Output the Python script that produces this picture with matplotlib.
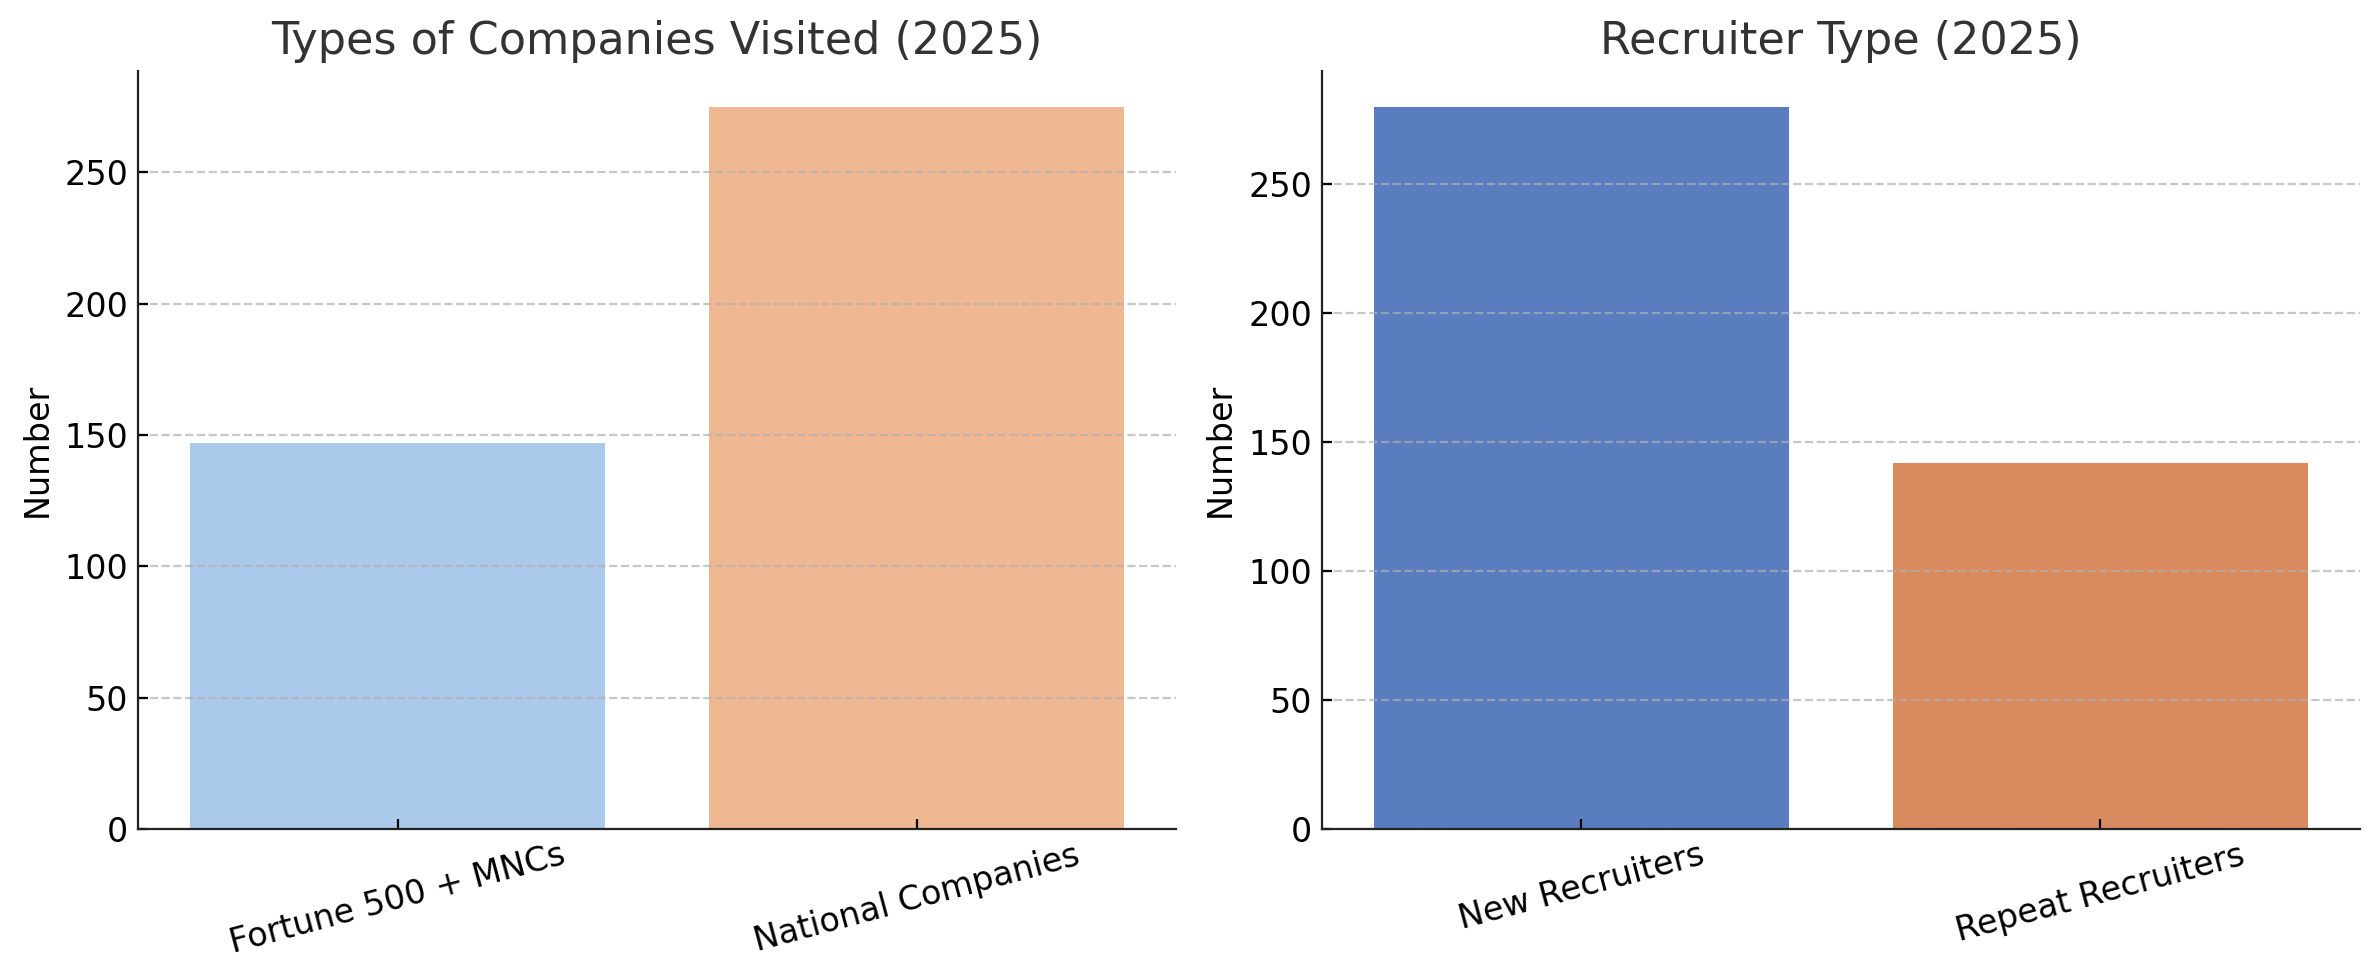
import matplotlib
matplotlib.use("Agg")
import matplotlib.pyplot as plt
import seaborn as sns

# Данные для левого графика
company_types = ["Fortune 500 + MNCs", "National Companies"]
company_counts = [147, 275]

# Данные для правого графика
recruiter_types = ["New Recruiters", "Repeat Recruiters"]
recruiter_counts = [280, 142]

# Цвета как у seaborn barplot (saturation=0.75)
left_colors = [sns.desaturate(c, 0.75) for c in sns.color_palette("pastel")[:2]]
right_colors = [sns.desaturate(c, 0.75) for c in sns.color_palette("muted")[:2]]

plt.rcParams["font.family"] = "DejaVu Sans"
plt.rcParams["font.size"] = 12


def draw_bars(ax, labels, values, colors, title):
    x = range(len(labels))
    ax.bar(x, values, width=0.8, color=colors)
    ax.set_xticks(list(x))
    ax.set_xticklabels(labels, rotation=15)
    ax.set_xlim(-0.5, len(labels) - 0.5)
    ax.set_title(title, fontsize=16, color="#333333")
    ax.set_ylabel("Number", fontsize=12)
    ax.grid(axis="y", linestyle="--", alpha=0.7)
    ax.tick_params(direction="in", labelsize=12)
    ax.spines["top"].set_visible(False)
    ax.spines["right"].set_visible(False)
    for s in ("left", "bottom"):
        ax.spines[s].set_color("#222222")


fig, (ax1, ax2) = plt.subplots(1, 2, figsize=(2379 / 200, 980 / 200), dpi=200)
fig.subplots_adjust(left=0.058, right=0.992, bottom=0.154, top=0.928, wspace=0.14)

draw_bars(ax1, company_types, company_counts, left_colors, "Types of Companies Visited (2025)")
draw_bars(ax2, recruiter_types, recruiter_counts, right_colors, "Recruiter Type (2025)")

fig.savefig("out.png", dpi=200)
